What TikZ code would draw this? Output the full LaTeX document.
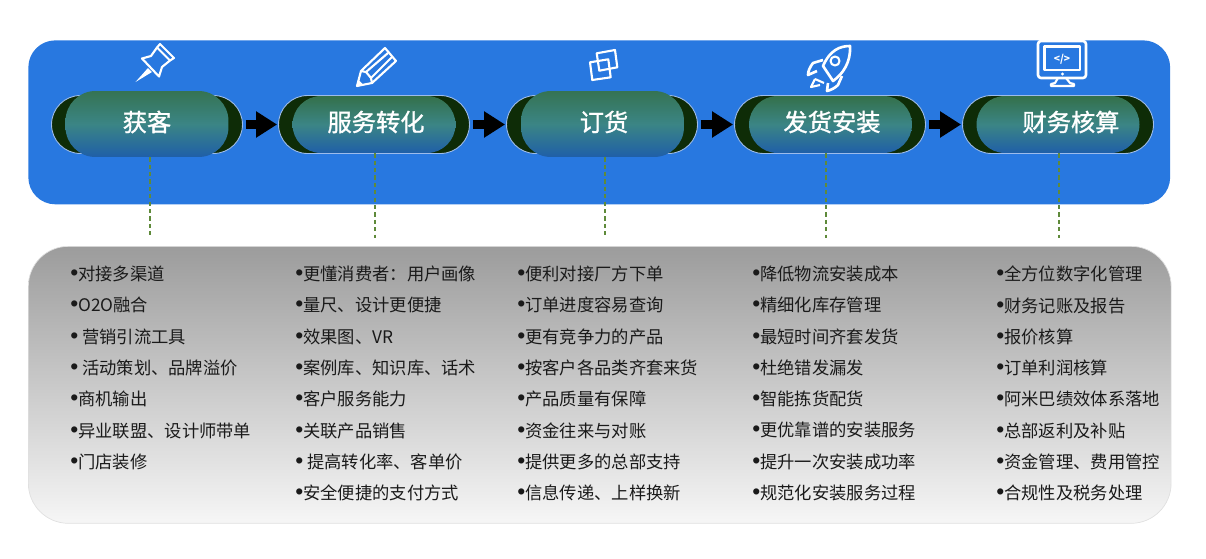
\documentclass[tikz,border=0pt]{standalone}
\usepackage{fontspec}
\usepackage{xcolor}
\usetikzlibrary{arrows.meta,calc}
\setmainfont{Noto Sans CJK SC}
\newfontfamily\dotfont{Liberation Sans}
\newfontfamily\pillfont[FakeBold=1.2]{Noto Sans CJK SC}
\newcommand{\dotmark}{{\dotfont\fontsize{13}{17.8}\selectfont •}}
\definecolor{flowBlue}{HTML}{2878E0}
\definecolor{flowDark}{HTML}{0E2C07}
\definecolor{flowGreen}{HTML}{34704A}
\definecolor{flowTeal}{HTML}{3B8585}
\definecolor{flowSteel}{HTML}{1F5FA8}
\definecolor{flowEdge}{HTML}{9DBCEB}
\definecolor{flowDash}{HTML}{5F8A3A}
\definecolor{flowInk}{HTML}{1A1A1A}
\definecolor{flowTop}{HTML}{9C9C9C}
\definecolor{flowBottom}{HTML}{F6F6F6}
\tikzset{
  bluepanel/.style={rectangle,rounded corners=0.54cm,fill=flowBlue,draw=none,
    minimum width=22.84cm,minimum height=3.28cm,anchor=north west,inner sep=0pt},
  graypanel/.style={rectangle,rounded corners=0.8cm,top color=flowTop,bottom color=flowBottom,
    draw=black!12,minimum width=22.86cm,minimum height=5.54cm,anchor=north west,inner sep=0pt},
  backpill/.style={rectangle,rounded corners=0.58cm,minimum width=3.82cm,minimum height=1.16cm,
    fill=flowDark,draw=flowEdge,line width=0.5pt,inner sep=0pt},
  frontpill/.style={rectangle,rounded corners=0.57cm,minimum width=3.26cm,minimum height=1.14cm,
    top color=flowGreen,bottom color=flowSteel,middle color=flowTeal,inner sep=0pt},
  tallpill/.style={frontpill,rounded corners=0.6cm,minimum height=1.32cm,
    top color=flowGreen!85!flowTeal,bottom color=flowSteel,middle color=flowTeal},
  pilltext/.style={font=\fontsize{13.8}{16}\pillfont,text=white,inner sep=0pt},
  listbox/.style={anchor=north west,inner sep=0pt,align=left,text=flowInk,
    font=\fontsize{9.84}{17.8}\selectfont},
  flowarr/.style={-{Triangle[length=0.42cm,width=0.5cm]},line width=0.19cm,color=black,
    shorten <=0.06cm,shorten >=0.02cm},
  droparr/.style={dash pattern=on 2.4pt off 1.8pt,color=flowDash,line width=0.6pt},
  iconline/.style={draw=white,line width=1.2pt,line join=round},
}
\begin{document}
\begin{tikzpicture}[x=0.02cm,y=-0.02cm]
  \useasboundingbox (0,0) rectangle (1206,558);
  \node[bluepanel] (topband) at (28,40) {};
  \node[graypanel] (listband) at (28,246) {};

  % back pills
  \node[backpill] (backa) at (147,124.5) {};
  \node[backpill] (backb) at (374,124.5) {};
  \node[backpill] (backc) at (602,124.5) {};
  \node[backpill] (backd) at (830,124.5) {};
  \node[backpill] (backe) at (1058,124.5) {};

  % front pills
  \node[tallpill] (pilla) at (147,124) {};
  \node[frontpill] (pillb) at (374,124.5) {};
  \node[tallpill] (pillc) at (602.5,124) {};
  \node[frontpill] (pilld) at (830.5,124.5) {};
  \node[frontpill] (pille) at (1058,124.5) {};

  \node[pilltext] (texta) at (147,122) {获客};
  \node[pilltext] (textb) at (376,122) {服务转化};
  \node[pilltext] (textc) at (604,122) {订货};
  \node[pilltext] (textd) at (832,122) {发货安装};
  \node[pilltext] (texte) at (1071,122) {财务核算};

  \draw[flowarr] (backa.east) -- (backb.west);
  \draw[flowarr] (backb.east) -- (backc.west);
  \draw[flowarr] (backc.east) -- (backd.west);
  \draw[flowarr] (backd.east) -- (backe.west);

  % dashed drops
  \coordinate (dropa) at (150,238);
  \coordinate (dropb) at (375,238);
  \coordinate (dropc) at (605,238);
  \coordinate (dropd) at (826,238);
  \coordinate (drope) at (1059,238);
  \draw[droparr] (pilla.south -| dropa) -- (dropa);
  \draw[droparr] (pillb.south -| dropb) -- (dropb);
  \draw[droparr] (pillc.south -| dropc) -- (dropc);
  \draw[droparr] (pilld.south -| dropd) -- (dropd);
  \draw[droparr] (pille.south -| drope) -- (drope);

  % lists
  \node[listbox] (lista) at (70,265.7)
    {\dotmark 对接多渠道\\\dotmark O2O融合\\\dotmark\ 营销引流工具\\\dotmark\ 活动策划、品牌溢价\\\dotmark 商机输出\\\dotmark 异业联盟、设计师带单\\\dotmark 门店装修};
  \node[listbox] (listb) at (295,265.7)
    {\dotmark 更懂消费者\symbol{"FF1A}用户画像\\\dotmark 量尺、设计更便捷\\\dotmark 效果图、VR\\\dotmark 案例库、知识库、话术\\\dotmark 客户服务能力\\\dotmark 关联产品销售\\\dotmark\ 提高转化率、客单价\\\dotmark 安全便捷的支付方式};
  \node[listbox] (listc) at (517,265.7)
    {\dotmark 便利对接厂方下单\\\dotmark 订单进度容易查询\\\dotmark 更有竞争力的产品\\\dotmark 按客户各品类齐套来货\\\dotmark 产品质量有保障\\\dotmark 资金往来与对账\\\dotmark 提供更多的总部支持\\\dotmark 信息传递、上样换新};
  \node[listbox] (listd) at (752,265.7)
    {\dotmark 降低物流安装成本\\\dotmark 精细化库存管理\\\dotmark 最短时间齐套发货\\\dotmark 杜绝错发漏发\\\dotmark 智能拣货配货\\\dotmark 更优靠谱的安装服务\\\dotmark 提升一次安装成功率\\\dotmark 规范化安装服务过程};
  \node[listbox] (liste) at (996,265.7)
    {\dotmark 全方位数字化管理\\\dotmark 财务记账及报告\\\dotmark 报价核算\\\dotmark 订单利润核算\\\dotmark 阿米巴绩效体系落地\\\dotmark 总部返利及补贴\\\dotmark 资金管理、费用管控\\\dotmark 合规性及税务处理};

  % icons
  \draw[iconline] (160,44) -- (174,58) -- (170,60.5) -- (157,47.5) -- cycle;
  \draw[iconline] (157,47.5) -- (151,56) -- (142,58.5) -- (159,76.5) -- (162,67) -- (170,60.5);
  \fill[white] (148,68) -- (135.5,82) -- (152,72) -- cycle;
  \draw[iconline] (385,48) -- (396,61) -- (372,83) -- (357,86) -- (361,71) -- cycle;
  \draw[iconline] (366,72) -- (388,53) (371,78) -- (392,57) (361,71) -- (366,72) -- (371,78) -- (372,83);
  \fill[white] (357,86) -- (358.5,80) -- (363,84.5) -- cycle;
  \draw[iconline] (590,62.3) -- (608.3,59.3) -- (610.7,77.3) -- (592.3,80) -- cycle;
  \draw[iconline] (596.7,53.3) -- (615,50) -- (617.3,67.3) -- (599.3,70.7) -- cycle;
  \draw[iconline,line width=1.5pt] (850,46) .. controls (840,46) and (830,50) .. (823,66)
    -- (833,81) .. controls (843,74) and (851,62) .. (850,46) -- cycle;
  \draw[iconline,line width=1.5pt] (823,60) -- (813,63) .. controls (810,67) and (808,71) .. (808,75) -- (817,71);
  \draw[iconline,line width=1.5pt] (842,76) -- (838,85) .. controls (835,88) and (831,90) .. (827,91) -- (828,83);
  \draw[iconline] (815,79) -- (811,87) -- (820,85) (815,79) -- (824,83);
  \draw[iconline] (835,61) circle (4.5);
  \draw[iconline,line width=1.5pt,rounded corners=0.06cm] (1038,41) rectangle (1086,78);
  \draw[iconline] (1044.5,46.5) rectangle (1080,70);
  \fill[white] (1062.5,74) circle (1.7);
  \node[font=\fontsize{5.8}{6}\selectfont\bfseries,text=white,inner sep=0pt] (codetag) at (1062,59) {</>};
  \draw[iconline] (1058,78) -- (1055,83) -- (1051,84) -- (1051,86) -- (1074,86) -- (1074,84) -- (1070,83) -- (1066,78);
\end{tikzpicture}
\end{document}
